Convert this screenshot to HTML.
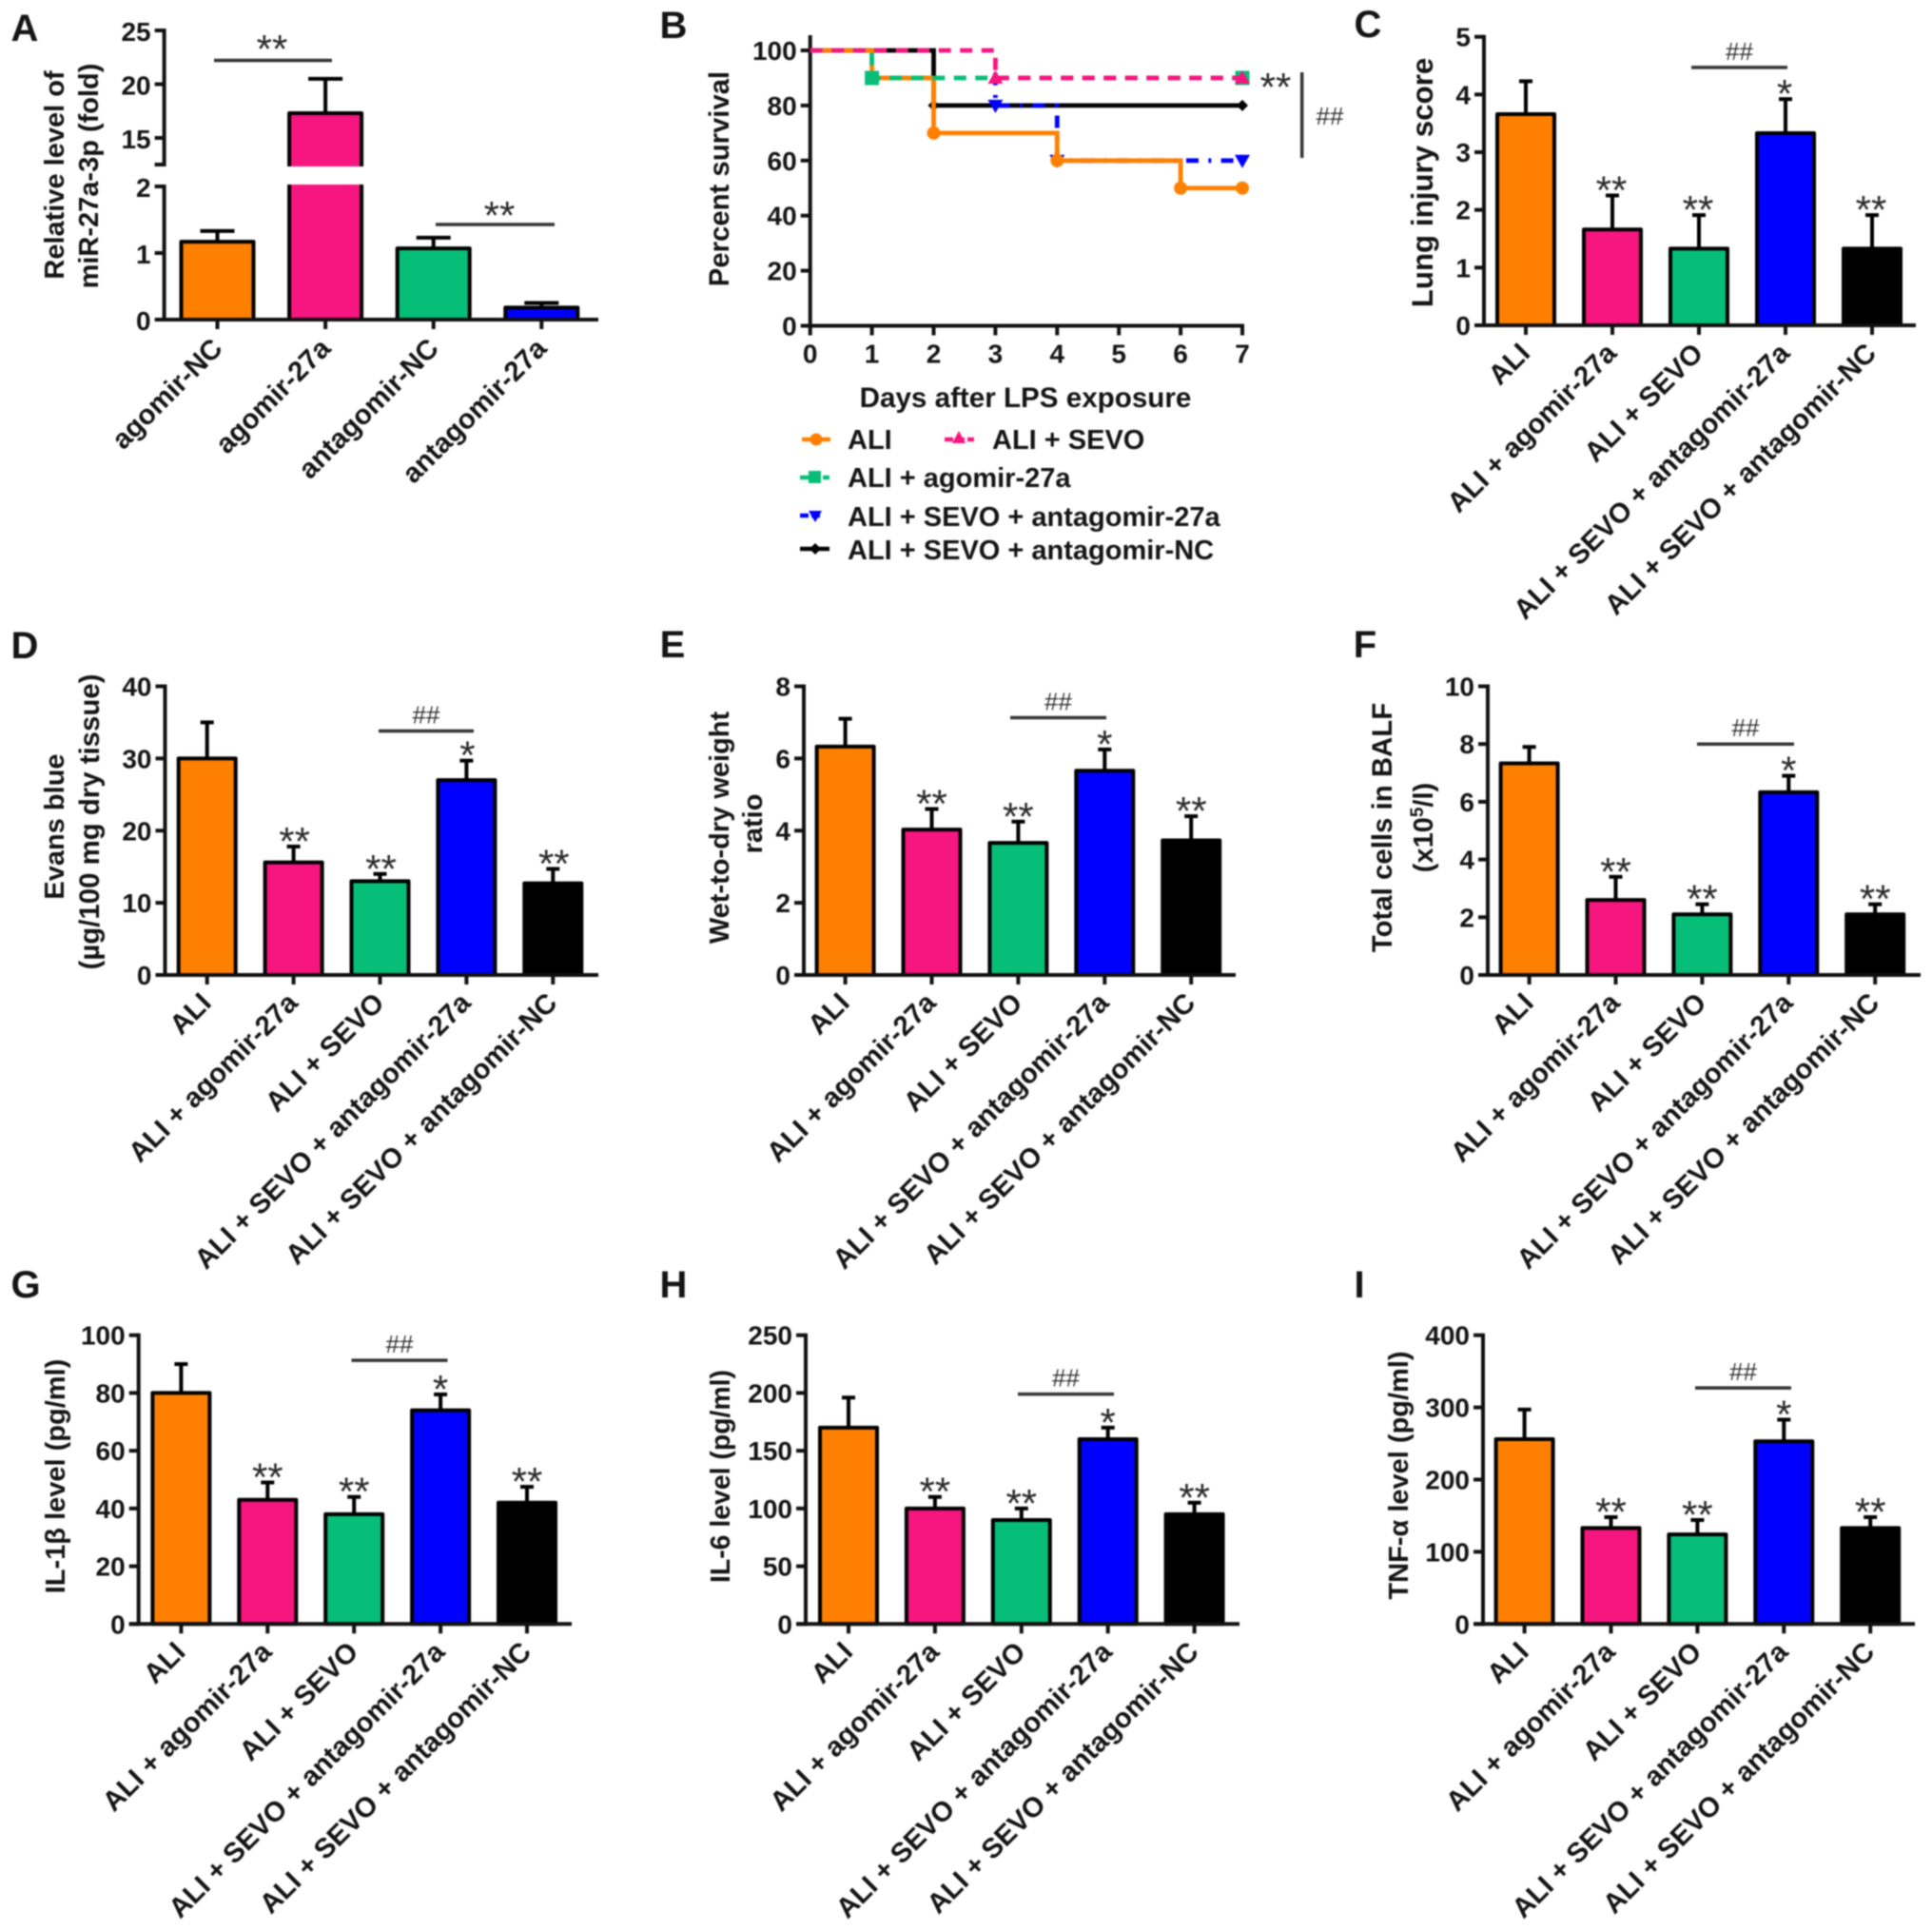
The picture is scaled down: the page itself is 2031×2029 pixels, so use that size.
<!DOCTYPE html>
<html lang="en">
<head>
<meta charset="utf-8">
<title>Survival and lung injury panels</title>
<style>
html,body{margin:0;padding:0;background:#fff;width:2031px;height:2029px;overflow:hidden}
svg{display:block;filter:blur(.8px)}
text{font-family:"Liberation Sans",Arial,sans-serif;font-weight:700;fill:#141414}
.letter{font-size:40px;text-anchor:middle}
.title{font-size:29px;text-anchor:middle}
.legend{font-size:29px}
.tick{font-size:28px}
.cat{font-size:29.3px}
.star{font-size:42px;font-weight:400;fill:#2a2a2a;text-anchor:middle}
.hash{font-size:26px;font-weight:400;fill:#333;text-anchor:middle}
</style>
</head>
<body>
<svg id="fig" xmlns="http://www.w3.org/2000/svg" width="2031" height="2029" viewBox="0 0 2031 2029">
  <text class="letter" x="26" y="43">A</text>
  <text class="letter" x="708" y="40">B</text>
  <text class="letter" x="1438" y="39">C</text>
  <text class="letter" x="26" y="692">D</text>
  <text class="letter" x="707" y="691">E</text>
  <text class="letter" x="1435" y="691">F</text>
  <text class="letter" x="27" y="1364">G</text>
  <text class="letter" x="708" y="1364">H</text>
  <text class="letter" x="1429" y="1364">I</text>

  <text class="title" transform="translate(67,184) rotate(-90)">Relative level of</text>
  <text class="title" transform="translate(103,185) rotate(-90)">miR-27a-3p (fold)</text>
  <text class="title" transform="translate(766,188) rotate(-90)" style="font-size:29.3px">Percent survival</text>
  <text class="title" x="1078" y="428" style="font-size:29.6px">Days after LPS exposure</text>
  <text class="title" transform="translate(1506,192) rotate(-90)" style="font-size:31.3px">Lung injury score</text>
  <text class="title" transform="translate(67,869) rotate(-90)">Evans blue</text>
  <text class="title" transform="translate(104,864) rotate(-90)" style="font-size:29.4px">(µg/100 mg dry tissue)</text>
  <text class="title" transform="translate(766,870) rotate(-90)">Wet-to-dry weight</text>
  <text class="title" transform="translate(801,866) rotate(-90)">ratio</text>
  <text class="title" transform="translate(1463,870) rotate(-90)" style="font-size:29.4px">Total cells in BALF</text>
  <text class="title" transform="translate(1506,870) rotate(-90)">(x10<tspan font-size="19" dy="-10">5</tspan><tspan dy="10">/l)</tspan></text>
  <text class="title" transform="translate(68,1552) rotate(-90)">IL-1β level (pg/ml)</text>
  <text class="title" transform="translate(767,1552) rotate(-90)" style="font-size:28.4px">IL-6 level (pg/ml)</text>
  <text class="title" transform="translate(1480,1551) rotate(-90)">TNF-α level (pg/ml)</text>

  <g>
    <g>
      <line x1="843" y1="462" x2="873" y2="462" stroke="#FF8000" stroke-width="4.5"/>
      <circle cx="858" cy="462" r="6.5" fill="#FF8000"/>
      <text class="legend" x="891" y="472">ALI</text>
    </g>
    <g>
      <line x1="993" y1="462" x2="1024" y2="462" stroke="#F7157F" stroke-width="4.5" stroke-dasharray="9 3"/>
      <polygon points="1008,453 1015,466 1001,466" fill="#F7157F"/>
      <text class="legend" x="1043" y="472">ALI + SEVO</text>
    </g>
    <g>
      <line x1="841" y1="502" x2="872" y2="502" stroke="#07BE78" stroke-width="4.5" stroke-dasharray="9 3"/>
      <rect x="850" y="495" width="13" height="13" fill="#07BE78"/>
      <text class="legend" x="891" y="512">ALI + agomir-27a</text>
    </g>
    <g>
      <line x1="841" y1="542" x2="865" y2="542" stroke="#0000FF" stroke-width="4.5" stroke-dasharray="9 3"/>
      <polygon points="850,537 864,537 857,549" fill="#0000FF"/>
      <text class="legend" x="891" y="553">ALI + SEVO + antagomir-27a</text>
    </g>
    <g>
      <line x1="841" y1="577" x2="872" y2="577" stroke="#000" stroke-width="4.5"/>
      <polygon points="857,571 863,577 857,583 851,577" fill="#000"/>
      <text class="legend" x="891" y="588">ALI + SEVO + antagomir-NC</text>
    </g>
  </g>
</svg>

<script>
// ---- Shared categories ----
const treatmentGroups = ["ALI", "ALI + agomir-27a", "ALI + SEVO", "ALI + SEVO + antagomir-27a", "ALI + SEVO + antagomir-NC"];
const mirnaGroups = ["agomir-NC", "agomir-27a", "antagomir-NC", "antagomir-27a"];
const groupColors = ["#FF8000", "#F7157F", "#07BE78", "#0000FF", "#000000"];
const mirnaColors = ["#FF8000", "#F7157F", "#07BE78", "#0000FF"];
const significanceMarks = ["", "**", "**", "*", "**"];

// ---- Panel A ----
const mirnaValues = [1.17, 17.3, 1.07, 0.18];
const mirnaErrorTops = [1.33, 20.5, 1.23, 0.25];
const mirnaLowerTicks = [0, 1, 2];
const mirnaUpperTicks = [15, 20, 25];

// ---- Panel B ----
const survivalDays = [0, 1, 2, 3, 4, 5, 6, 7];
const survivalTicks = [0, 20, 40, 60, 80, 100];
const survivalAli = [100, 90, 70, 70, 60, 60, 50, 50];
const survivalAgomir = [100, 90, 90, 90, 90, 90, 90, 90];
const survivalSevo = [100, 100, 100, 90, 90, 90, 90, 90];
const survivalAntagomir27a = [100, 100, 100, 80, 60, 60, 60, 60];
const survivalAntagomirNc = [100, 100, 80, 80, 80, 80, 80, 80];

// ---- Panels C to I: bar heights, error-bar tops, tick labels, bracket level ----
const lungValues = [3.66, 1.66, 1.33, 3.33, 1.33];
const lungErrors = [4.23, 2.25, 1.91, 3.92, 1.91];
const lungTicks = [0, 1, 2, 3, 4, 5];
const lungBracket = [4.47];

const evansValues = [30, 15.6, 13, 27, 12.7];
const evansErrors = [35, 17.8, 14, 29.7, 14.7];
const evansTicks = [0, 10, 20, 30, 40];
const evansBracket = [33.8];

const wetDryValues = [6.33, 4.03, 3.66, 5.66, 3.73];
const wetDryErrors = [7.1, 4.6, 4.25, 6.25, 4.4];
const wetDryTicks = [0, 2, 4, 6, 8];
const wetDryBracket = [7.13];

const cellsValues = [7.33, 2.6, 2.1, 6.33, 2.1];
const cellsErrors = [7.9, 3.4, 2.45, 6.9, 2.45];
const cellsTicks = [0, 2, 4, 6, 8, 10];
const cellsBracket = [8.0];

const il1Values = [80, 43, 38, 74, 42];
const il1Errors = [90, 49, 44, 79.5, 47.5];
const il1Ticks = [0, 20, 40, 60, 80, 100];
const il1Bracket = [91.3];

const il6Values = [170, 100, 90, 160, 95];
const il6Errors = [196, 110, 100, 170, 105];
const il6Ticks = [0, 50, 100, 150, 200, 250];
const il6Bracket = [199];

const tnfValues = [256, 133, 124, 253, 133];
const tnfErrors = [297, 148, 144, 283, 148];
const tnfTicks = [0, 100, 200, 300, 400];
const tnfBracket = [327];

const INK = "#111";
const fig = document.getElementById("fig");

function svgNode(tag, parent) {
  const el = document.createElementNS("http://www.w3.org/2000/svg", tag);
  parent.appendChild(el);
  return el;
}
function drawLine(parent, x1, y1, x2, y2, width, color) {
  const el = svgNode("line", parent);
  el.setAttribute("x1", x1);
  el.setAttribute("y1", y1);
  el.setAttribute("x2", x2);
  el.setAttribute("y2", y2);
  el.setAttribute("stroke", color);
  el.setAttribute("stroke-width", width);
  return el;
}
function drawText(parent, x, y, str, cls, anchor) {
  const el = svgNode("text", parent);
  el.setAttribute("x", x);
  el.setAttribute("y", y);
  el.setAttribute("class", cls);
  if (anchor) el.setAttribute("text-anchor", anchor);
  el.textContent = str;
  return el;
}
function drawCategoryLabel(parent, cx, zeroY, str) {
  const x = cx + 6;
  const y = zeroY + 31;
  const el = drawText(parent, x, y, str, "cat", "end");
  el.setAttribute("transform", "rotate(-45 " + x + " " + y + ")");
  
  
  return el;
}
function drawBar(parent, cx, outerW, yTop, yZero, color) {
  const el = svgNode("rect", parent);
  el.setAttribute("x", cx - outerW / 2 + 2);
  el.setAttribute("y", yTop);
  el.setAttribute("width", outerW - 4);
  el.setAttribute("height", yZero - yTop);
  el.setAttribute("fill", color);
  el.setAttribute("stroke", "#000");
  el.setAttribute("stroke-width", 4);
  el.setAttribute("stroke-linejoin", "round");
  return el;
}

// Standard bar panel renderer
function renderBarPanel(cfg) {
  const g = svgNode("g", fig);
  
  
  const yScale = function (v) { return cfg.zeroY - (v / cfg.yMax) * (cfg.zeroY - cfg.topY); };
  const xScale = function (i) { return cfg.firstX + i * cfg.stepX; };

  cfg.ticks.forEach(function (t) {
    const tickMark = drawLine(g, cfg.axisX - 10, yScale(t), cfg.axisX, yScale(t), 4, INK);
    
    
    const label = drawText(g, cfg.axisX - 14, yScale(t) + 10, String(t), "tick", "end");
    
    
  });

  cfg.values.forEach(function (v, i) {
    const cx = xScale(i);
    const stem = drawLine(g, cx, yScale(cfg.errors[i]), cx, yScale(v), 4, "#000");
    
    
    const cap = drawLine(g, cx - 7, yScale(cfg.errors[i]), cx + 7, yScale(cfg.errors[i]), 4, "#000");
    
    
    const bar = drawBar(g, cx, 64, yScale(v), cfg.zeroY, groupColors[i]);
    
    
    const tickMark = drawLine(g, cx, cfg.zeroY, cx, cfg.zeroY + 10, 4, INK);
    
    
    drawCategoryLabel(g, cx, cfg.zeroY, treatmentGroups[i]);
    if (significanceMarks[i]) {
      const star = drawText(g, cx + (cfg.starDx || 0), yScale(cfg.errors[i]) + 9, significanceMarks[i], "star");
      
      
    }
  });

  const yAxis = drawLine(g, cfg.axisX, cfg.topY - 2, cfg.axisX, cfg.zeroY + 2, 4, INK);
  
  
  const xAxis = drawLine(g, cfg.axisX - 10, cfg.zeroY, cfg.axisR, cfg.zeroY, 4, INK);
  
  

  const by = yScale(cfg.bracket[0]);
  const bracket = drawLine(g, cfg.brL, by, cfg.brR, by, 3.5, "#333");
  
  
  const hash = drawText(g, (cfg.brL + cfg.brR) / 2, by - 8, "##", "hash");
  
  
}

renderBarPanel({ id: "c", axisX: 1560, axisR: 2014, zeroY: 342, topY: 38.7, yMax: 5, firstX: 1604, stepX: 91, brL: 1778, brR: 1879, starDx: -1,
  ticks: lungTicks, values: lungValues, errors: lungErrors, bracket: lungBracket });
renderBarPanel({ id: "d", axisX: 173.5, axisR: 629, zeroY: 1025, topY: 721.5, yMax: 40, firstX: 217.7, stepX: 90.9, brL: 398, brR: 498, starDx: 1,
  ticks: evansTicks, values: evansValues, errors: evansErrors, bracket: evansBracket });
renderBarPanel({ id: "e", axisX: 845, axisR: 1299, zeroY: 1025, topY: 721.5, yMax: 8, firstX: 888.6, stepX: 90.9, brL: 1062, brR: 1163, starDx: 0,
  ticks: wetDryTicks, values: wetDryValues, errors: wetDryErrors, bracket: wetDryBracket });
renderBarPanel({ id: "f", axisX: 1564, axisR: 2019, zeroY: 1025, topY: 721.5, yMax: 10, firstX: 1607.6, stepX: 90.9, brL: 1784, brR: 1886, starDx: 0,
  ticks: cellsTicks, values: cellsValues, errors: cellsErrors, bracket: cellsBracket });
renderBarPanel({ id: "g", axisX: 145.7, axisR: 601, zeroY: 1707.3, topY: 1403.7, yMax: 100, firstX: 190.4, stepX: 90.9, brL: 369.5, brR: 470.5, starDx: 0,
  ticks: il1Ticks, values: il1Values, errors: il1Errors, bracket: il1Bracket });
renderBarPanel({ id: "h", axisX: 847, axisR: 1303, zeroY: 1707.3, topY: 1403.7, yMax: 250, firstX: 892, stepX: 90.9, brL: 1070, brR: 1171, starDx: 0,
  ticks: il6Ticks, values: il6Values, errors: il6Errors, bracket: il6Bracket });
renderBarPanel({ id: "i", axisX: 1559, axisR: 2013, zeroY: 1707.3, topY: 1403.7, yMax: 400, firstX: 1602.6, stepX: 90.9, brL: 1782, brR: 1883, starDx: 0,
  ticks: tnfTicks, values: tnfValues, errors: tnfErrors, bracket: tnfBracket });

// Panel A: broken y axis
(function renderPanelA() {
  const g = svgNode("g", fig);
  
  
  const axisX = 172.6, zeroY = 336, lowTopY = 196, upTopY = 32, breakY = 173;
  const upperMin = 15 - (breakY - 145) / ((145 - upTopY) / 10);
  const yScale = function (v) {
    if (v <= 2) return zeroY - (v / 2) * (zeroY - lowTopY);
    return upTopY + (25 - v) * ((145 - upTopY) / 10);
  };
  const xScale = function (i) { return 228.5 + i * 113.6; };

  mirnaLowerTicks.concat(mirnaUpperTicks).forEach(function (t) {
    const tickMark = drawLine(g, axisX - 10, yScale(t), axisX, yScale(t), 4, INK);
    
    
    const label = drawText(g, axisX - 14, yScale(t) + 11, String(t), "tick", "end");
    
    
  });

  mirnaValues.forEach(function (v, i) {
    const cx = xScale(i);
    const stem = drawLine(g, cx, yScale(mirnaErrorTops[i]), cx, yScale(v), 4, "#000");
    
    
    const cap = drawLine(g, cx - 18, yScale(mirnaErrorTops[i]), cx + 18, yScale(mirnaErrorTops[i]), 4, "#000");
    
    
    const bar = drawBar(g, cx, 80, yScale(v), zeroY, mirnaColors[i]);
    
    
    const tickMark = drawLine(g, cx, zeroY, cx, zeroY + 10, 4, INK);
    
    
    const x = cx + 7, y = zeroY + 32;
    const label = drawText(g, x, y, mirnaGroups[i], "cat", "end");
    label.setAttribute("transform", "rotate(-45 " + x + " " + y + ")");
    
    
  });

  // White gap across axis and any bar crossing the break
  const gap = svgNode("rect", g);
  gap.setAttribute("x", axisX - 14);
  gap.setAttribute("y", yScale(upperMin) + 2);
  gap.setAttribute("width", 400);
  gap.setAttribute("height", lowTopY - yScale(upperMin) - 4);
  gap.setAttribute("fill", "#fff");
  
  

  const upperAxis = drawLine(g, axisX, upTopY - 2, axisX, breakY + 2, 4, INK);
  
  
  const breakTick = drawLine(g, axisX - 10, breakY, axisX, breakY, 4, INK);
  
  
  const lowerAxis = drawLine(g, axisX, lowTopY - 2, axisX, zeroY + 2, 4, INK);
  
  
  const xAxis = drawLine(g, axisX - 8, zeroY, 629, zeroY, 4, INK);
  
  

  const b1 = drawLine(g, 225, 63.5, 349, 63.5, 3.5, "#333");
  
  
  const s1 = drawText(g, 286, 66, "**", "star");
  
  
  const b2 = drawLine(g, 458, 236, 583, 236, 3.5, "#333");
  
  
  const s2 = drawText(g, 525, 241, "**", "star");
  
  
})();

// Panel B: Kaplan-Meier step curves
(function renderPanelB() {
  const g = svgNode("g", fig);
  
  
  const axisX = 851.7, zeroY = 342.5, y100 = 53, dayW = 64.9;
  const xScale = function (d) { return axisX + d * dayW; };
  const yScale = function (v) { return zeroY - (v / 100) * (zeroY - y100); };

  survivalTicks.forEach(function (t) {
    const tickMark = drawLine(g, axisX - 10, yScale(t), axisX, yScale(t), 4, INK);
    
    
    const label = drawText(g, axisX - 14, yScale(t) + 10, String(t), "tick", "end");
    
    
  });
  survivalDays.forEach(function (d) {
    const tickMark = drawLine(g, xScale(d), zeroY, xScale(d), zeroY + 10, 4, INK);
    
    
    const label = drawText(g, xScale(d), zeroY + 39, String(d), "tick", "middle");
    
    
  });
  const yAxis = drawLine(g, axisX, 37, axisX, zeroY + 2, 4, INK);
  
  
  const xAxis = drawLine(g, axisX - 2, zeroY, xScale(7) + 2, zeroY, 4, INK);
  
  

  function drawMarker(kind, x, y, color) {
    let el;
    if (kind === "circle") {
      el = svgNode("circle", g);
      el.setAttribute("cx", x);
      el.setAttribute("cy", y);
      el.setAttribute("r", 7);
    } else if (kind === "square") {
      el = svgNode("rect", g);
      el.setAttribute("x", x - 7.5);
      el.setAttribute("y", y - 7.5);
      el.setAttribute("width", 15);
      el.setAttribute("height", 15);
    } else {
      let pts;
      if (kind === "up") pts = [x, y - 8, x + 8, y + 6, x - 8, y + 6];
      if (kind === "down") pts = [x - 8, y - 6, x + 8, y - 6, x, y + 8];
      if (kind === "diamond") pts = [x, y - 6, x + 6, y, x, y + 6, x - 6, y];
      el = svgNode("polygon", g);
      el.setAttribute("points", pts.join(" "));
    }
    el.setAttribute("fill", color);
    return el;
  }

  // startAtDrop: begin the stroke at the first survival drop, so the dash
  // pattern does not show through on the shared 100% plateau.
  function drawCurve(values, color, dash, kind, name, startAtDrop, dashOffset) {
    let start = 0;
    if (startAtDrop) {
      while (start + 1 < values.length && values[start + 1] === values[0]) start++;
      start++;
    }
    const startY = startAtDrop ? values[start - 1] : values[start];
    let d = "M" + xScale(survivalDays[start]) + " " + yScale(startY) + "V" + yScale(values[start]);
    for (let i = start + 1; i < values.length; i++) {
      d += "H" + xScale(survivalDays[i]) + "V" + yScale(values[i]);
    }
    const path = svgNode("path", g);
    path.setAttribute("d", d);
    path.setAttribute("fill", "none");
    path.setAttribute("stroke", color);
    path.setAttribute("stroke-width", 4.8);
    if (dash) path.setAttribute("stroke-dasharray", dash);
    if (dashOffset) path.setAttribute("stroke-dashoffset", dashOffset);
    
    
    for (let i = 1; i < values.length; i++) {
      if (values[i] !== values[i - 1] || i === values.length - 1) {
        const m = drawMarker(kind, xScale(survivalDays[i]), yScale(values[i]), color);
        
        
      }
    }
  }
  drawCurve(survivalAntagomirNc, "#000", "", "diamond", "curve-sevo-antagomir-nc", false, 0);
  drawCurve(survivalAntagomir27a, "#0000FF", "13 10.3 3 10.3", "down", "curve-sevo-antagomir-27a", true, 13);
  drawCurve(survivalAli, "#FF8000", "", "circle", "curve-ali", false, 0);
  drawCurve(survivalAgomir, "#07BE78", "13 9.5", "square", "curve-ali-agomir-27a", false, 0);
  drawCurve(survivalSevo, "#F7157F", "13 9.5", "up", "curve-ali-sevo", false, 0);

  const s = drawText(g, 1341, 106, "**", "star");
  
  
  const v = drawLine(g, 1368.7, 76, 1368.7, 166, 3.5, "#333");
  
  
  const h = drawText(g, 1398, 131, "##", "hash");
  
  
})();
</script>
</body>
</html>
